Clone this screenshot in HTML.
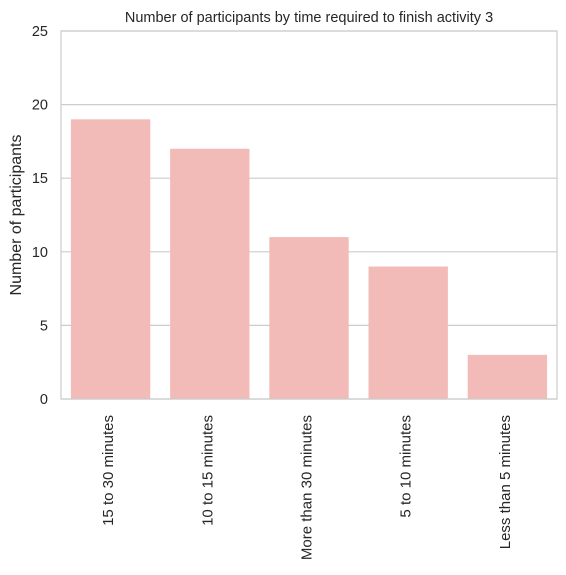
<!DOCTYPE html>
<html><head><meta charset="utf-8"><style>
body{margin:0;background:#fff;font-family:"Liberation Sans",Arial,sans-serif;}
svg text{font-family:"Liberation Sans",Arial,sans-serif;fill:#262626;}
</style></head><body>
<svg id="chart" width="566" height="570" viewBox="0 0 566 570" xmlns="http://www.w3.org/2000/svg">
<rect x="0" y="0" width="566" height="570" fill="#fff"/>
<g id="grid"></g>
<g id="bars"></g>
<rect x="61" y="31" width="496" height="368" fill="none" stroke="#cccccc" stroke-width="1.2"/>
<g id="yticks"></g>
<g id="xticks"></g>
<text x="309" y="22" text-anchor="middle" font-size="14.5">Number of participants by time required to finish activity 3</text>
<text transform="translate(21,215) rotate(-90)" text-anchor="middle" font-size="16">Number of participants</text>
</svg>
<script>
const categories=["15 to 30 minutes","10 to 15 minutes","More than 30 minutes","5 to 10 minutes","Less than 5 minutes"];
const values=[19,17,11,9,3];
const yTicks=[0,5,10,15,20,25];
const NS="http://www.w3.org/2000/svg";
const L=61,R=557,T=31,B=399,YMAX=25;
function y(v){return B-(v/YMAX)*(B-T);}
const band=(R-L)/categories.length;
function x(i){return L+band*i;}
const grid=document.getElementById('grid'),bars=document.getElementById('bars'),yt=document.getElementById('yticks'),xt=document.getElementById('xticks');
yTicks.forEach(t=>{
 const l=document.createElementNS(NS,'line');
 l.setAttribute('x1',L);l.setAttribute('x2',R);l.setAttribute('y1',y(t));l.setAttribute('y2',y(t));
 l.setAttribute('stroke','#cccccc');l.setAttribute('stroke-width','1.2');
 
 
 grid.appendChild(l);
 const tx=document.createElementNS(NS,'text');
 tx.setAttribute('x',L-13);tx.setAttribute('y',y(t)+5);tx.setAttribute('text-anchor','end');tx.setAttribute('font-size','14.5');
 tx.textContent=t;
 
 
 yt.appendChild(tx);
});
categories.forEach((c,i)=>{
 const r=document.createElementNS(NS,'rect');
 const bw=band*0.8;
 r.setAttribute('x',x(i)+band*0.1);r.setAttribute('width',bw);
 r.setAttribute('y',y(values[i]));r.setAttribute('height',B-y(values[i]));
 r.setAttribute('fill','#f2bbb8');
 
 
 bars.appendChild(r);
 const cx=x(i)+band/2;
 const tx=document.createElementNS(NS,'text');
 tx.setAttribute('transform','translate('+(cx+2.5)+','+(B+16)+') rotate(-90)');
 tx.setAttribute('text-anchor','end');tx.setAttribute('font-size','15');
 tx.textContent=c;
 
 
 xt.appendChild(tx);
});
</script>
</body></html>
